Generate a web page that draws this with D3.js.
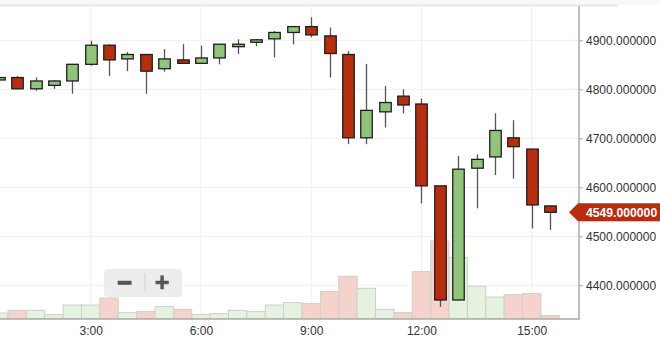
<!DOCTYPE html>
<html>
<head>
<meta charset="utf-8">
<script src="https://cdn.jsdelivr.net/npm/d3@7"></script>
<style>
  body { margin: 0; background: #fff; }
  svg { display: block; font-family: "Liberation Sans", Arial, sans-serif; }
</style>
</head>
<body>
<script>
var width = 660;
var height = 357;

// 30 minute candles
var times  = ["0:30","1:00","1:30","2:00","2:30","3:00","3:30","4:00","4:30","5:00","5:30","6:00","6:30","7:00","7:30","8:00",
              "8:30","9:00","9:30","10:00","10:30","11:00","11:30","12:00","12:30","13:00","13:30","14:00","14:30","15:00","15:30"];
var opens  = [4819,4824,4801,4808,4817,4851,4890,4862,4871,4842,4860,4853,4864,4887,4896,4903,
              4916,4928,4909,4871,4701,4754,4786,4770,4603,4370,4639,4662,4701,4678,4562];
var highs  = [4825,4827,4824,4819,4852,4899,4892,4876,4872,4882,4892,4889,4892,4902,4902,4919,
              4928,4947,4926,4878,4852,4807,4800,4781,4603,4664,4667,4751,4737,4678,4562];
var lows   = [4818,4800,4797,4801,4791,4848,4827,4837,4791,4836,4852,4852,4851,4872,4888,4865,
              4892,4906,4824,4688,4688,4722,4751,4567,4356,4370,4557,4625,4618,4516,4513];
var closes = [4824,4801,4817,4817,4851,4890,4860,4871,4837,4862,4853,4864,4892,4892,4901,4916,
              4928,4911,4873,4701,4757,4773,4768,4603,4370,4637,4657,4716,4683,4564,4549];
var volumes = [60,87,87,44,140,140,210,64,74,124,97,44,54,87,74,140,
               164,154,274,427,307,97,64,474,780,614,327,220,244,254,34];
var priceTicks = [4400,4500,4600,4700,4800,4900];
var timeTicks = ["3:00","6:00","9:00","12:00","15:00"];
var lastPrice = 4549;

var parseT = function(s){
  var p = s.split(":");
  return new Date(2016, 0, 1, +p[0], +p[1]);
};

var data = times.map(function(t, i){
  return {t: parseT(t), o: opens[i], h: highs[i], l: lows[i], c: closes[i], v: volumes[i]};
});

var plotRight = 579, plotTop = 6, plotBottom = 319;

var svg = d3.select("body").append("svg")
  .attr("width", width)
  .attr("height", height);

var xScale = d3.scaleTime()
  .domain([parseT("0:00"), parseT("16:00")])
  .range([-19.55, 568.45]);

var yScale = d3.scaleLinear()
  .domain([4400, 4900])
  .range([285.3, 40.3]);

var vScale = d3.scaleLinear()
  .domain([0, 1000])
  .range([plotBottom, plotBottom - 100]);

var step = xScale(parseT("1:00")) - xScale(parseT("0:30"));
var bodyW = 11.5;

// top strip
svg.append("rect").attr("x", 0).attr("y", 0).attr("width", width).attr("height", 5).attr("fill", "#f8f8f8");
svg.append("line").attr("x1", 0).attr("x2", 618).attr("y1", 5.5).attr("y2", 5.5)
  .attr("stroke", "#e4e4e4").attr("stroke-width", 1.5);

svg.append("defs").append("clipPath").attr("id", "plot")
  .append("rect").attr("x", 0).attr("y", plotTop).attr("width", plotRight).attr("height", plotBottom - plotTop);

var plot = svg.append("g").attr("clip-path", "url(#plot)");

// grid
plot.selectAll(".hgrid").data(priceTicks).enter().append("line")
  .attr("x1", 0).attr("x2", plotRight)
  .attr("y1", function(d){ return yScale(d); })
  .attr("y2", function(d){ return yScale(d); })
  .attr("stroke", "#efefef").attr("stroke-width", 1);

plot.selectAll(".vgrid").data(timeTicks).enter().append("line")
  .attr("x1", function(d){ return xScale(parseT(d)); })
  .attr("x2", function(d){ return xScale(parseT(d)); })
  .attr("y1", plotTop).attr("y2", plotBottom)
  .attr("stroke", "#efefef").attr("stroke-width", 1);

// volume
plot.selectAll(".vol").data(data).enter().append("rect")
  .attr("x", function(d){ return xScale(d.t) - step / 2; })
  .attr("width", step)
  .attr("y", function(d){ return vScale(d.v); })
  .attr("height", function(d){ return plotBottom - vScale(d.v); })
  .attr("fill", function(d){ return d.c >= d.o ? "#e6f2e0" : "#f3d3cb"; })
  .attr("stroke", "#cfcfcf").attr("stroke-width", 1);

// wicks
plot.selectAll(".wick").data(data).enter().append("line")
  .attr("x1", function(d){ return Math.round(xScale(d.t)) + 0.5; })
  .attr("x2", function(d){ return Math.round(xScale(d.t)) + 0.5; })
  .attr("y1", function(d){ return yScale(d.h); })
  .attr("y2", function(d){ return yScale(d.l); })
  .attr("stroke", "#555").attr("stroke-width", 1.3);

// bodies
plot.selectAll(".body").data(data).enter().append("rect")
  .attr("x", function(d){ return Math.round(xScale(d.t)) + 0.5 - bodyW / 2; })
  .attr("width", bodyW)
  .attr("y", function(d){ return yScale(Math.max(d.o, d.c)); })
  .attr("height", function(d){ return Math.max(1.5, Math.abs(yScale(d.o) - yScale(d.c))); })
  .attr("fill", function(d){ return d.c >= d.o ? "#8fc57a" : "#b82d0e"; })
  .attr("stroke", "#1e1e1e").attr("stroke-width", 1.3);

// axes lines
svg.append("line").attr("x1", 0).attr("x2", plotRight + 1).attr("y1", plotBottom).attr("y2", plotBottom)
  .attr("stroke", "#aaa").attr("stroke-width", 1.5);
svg.append("line").attr("x1", plotRight).attr("x2", plotRight).attr("y1", plotTop).attr("y2", plotBottom)
  .attr("stroke", "#aaa").attr("stroke-width", 1.5);

// y axis
var yAxis = d3.axisRight(yScale)
  .tickValues(priceTicks)
  .tickFormat(d3.format(".6f"))
  .tickSize(4)
  .tickPadding(3);

var gy = svg.append("g").attr("transform", "translate(" + plotRight + ",0)").call(yAxis);
gy.select(".domain").remove();
gy.selectAll(".tick line").attr("stroke", "#aaa");
gy.selectAll(".tick text").attr("fill", "#333").attr("font-size", 12).attr("font-family", "Liberation Sans, Arial, sans-serif");

// x axis
var xAxis = d3.axisBottom(xScale)
  .tickValues(timeTicks.map(parseT))
  .tickFormat(d3.timeFormat("%-H:%M"))
  .tickSize(0)
  .tickPadding(7);

var gx = svg.append("g").attr("transform", "translate(0," + plotBottom + ")").call(xAxis);
gx.select(".domain").remove();
gx.selectAll(".tick text").attr("fill", "#333").attr("font-size", 12).attr("font-family", "Liberation Sans, Arial, sans-serif");

// last price tag
var ly = yScale(lastPrice);
svg.append("path")
  .attr("d", "M569," + ly + " L578," + (ly - 9) + " L660," + (ly - 9) + " L660," + (ly + 9) + " L578," + (ly + 9) + " Z")
  .attr("fill", "#b82d0e");
svg.append("text").attr("x", 586).attr("y", ly + 4.5)
  .attr("fill", "#fff").attr("font-size", 12.2).attr("font-weight", "bold")
  .text(d3.format(".6f")(lastPrice));

// zoom buttons
var zb = svg.append("g");
zb.append("rect").attr("x", 104).attr("y", 269).attr("width", 78).attr("height", 28).attr("rx", 4)
  .attr("fill", "#ebebeb").attr("fill-opacity", 0.9);
zb.append("line").attr("x1", 145).attr("x2", 145).attr("y1", 273).attr("y2", 292)
  .attr("stroke", "#cfcfcf").attr("stroke-width", 1);
zb.append("text").attr("x", 124.5).attr("y", 291).attr("text-anchor", "middle")
  .attr("font-size", 25).attr("font-weight", "bold").attr("fill", "#555")
  .attr("stroke", "#555").attr("stroke-width", 1.2).text("−");
zb.append("text").attr("x", 162).attr("y", 291).attr("text-anchor", "middle")
  .attr("font-size", 25).attr("font-weight", "bold").attr("fill", "#555")
  .attr("stroke", "#555").attr("stroke-width", 0.6).text("+");
</script>
</body>
</html>
